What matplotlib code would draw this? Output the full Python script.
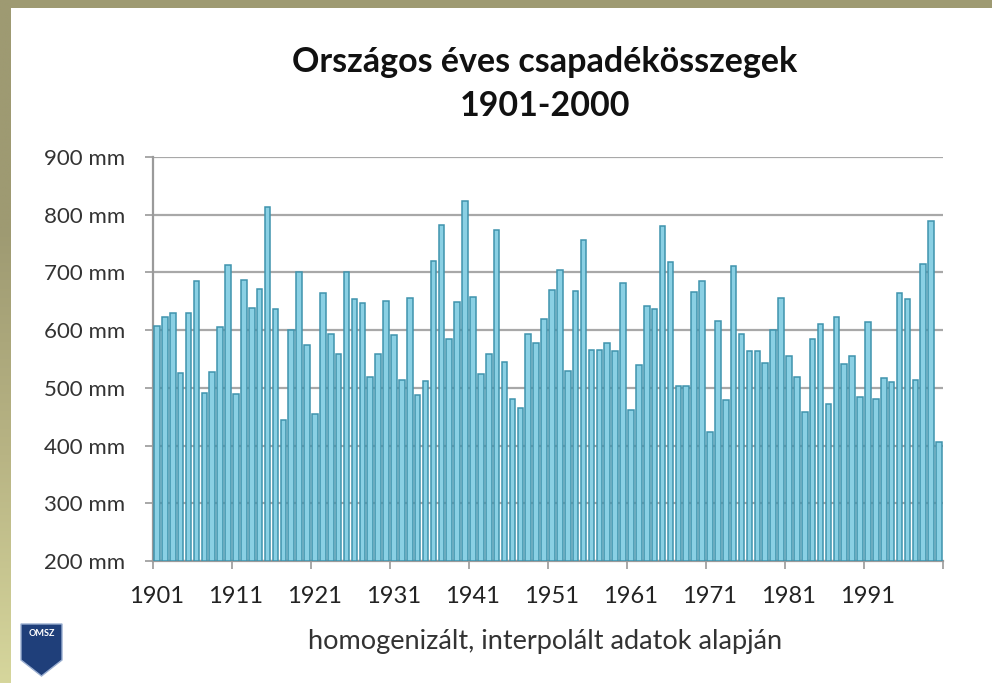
import matplotlib
matplotlib.use("Agg")
import matplotlib.pyplot as plt
import numpy as np
from matplotlib.patches import Rectangle, Polygon
from matplotlib.ticker import FixedLocator, NullFormatter
from matplotlib.colors import LinearSegmentedColormap

years = list(range(1901, 2001))
precip_mm = [
    608, 623, 630, 526, 629, 686, 491, 528, 606, 713,
    489, 687, 638, 672, 813, 637, 444, 600, 701, 574,
    454, 665, 594, 558, 701, 654, 647, 518, 558, 651,
    591, 514, 656, 488, 512, 719, 782, 584, 649, 823,
    658, 524, 559, 774, 545, 481, 465, 594, 578, 620,
    670, 704, 529, 667, 756, 566, 566, 578, 564, 682,
    461, 540, 641, 637, 780, 718, 504, 504, 666, 686,
    423, 615, 479, 711, 593, 564, 564, 543, 601, 655,
    556, 519, 458, 585, 610, 472, 623, 542, 555, 485,
    614, 480, 517, 511, 665, 654, 514, 714, 789, 407,
]
ytick_values = [200, 300, 400, 500, 600, 700, 800, 900]
ytick_labels = [f"{v} mm" for v in ytick_values]
xtick_years = list(range(1901, 2000, 10))
title_line1 = "Országos éves csapadékösszegek"
title_line2 = "1901-2000"
subtitle = "homogenizált, interpolált adatok alapján"

plt.rcParams['font.family'] = ['Lato', 'DejaVu Sans']

W, H = 992, 683
fig = plt.figure(figsize=(W / 100, H / 100), dpi=100)
fig.patch.set_facecolor('white')

# olive frame (top and left)
olive = '#9e9a72'
fig.add_artist(Rectangle((0, 1 - 8 / H), 1, 8 / H, transform=fig.transFigure,
                         facecolor=olive, edgecolor='none', zorder=0))
grad = np.linspace(0, 1, 256).reshape(-1, 1)
ax_bg = fig.add_axes([0, 0, 11 / W, 1])
cmap = LinearSegmentedColormap.from_list('stripe', ['#d6d69c', '#b8b484', olive, olive])
ax_bg.imshow(grad, aspect='auto', cmap=cmap, origin='lower', extent=[0, 1, 0, 1])
ax_bg.set_axis_off()

ax = fig.add_axes([153 / W, 1 - 561 / H, (943 - 153) / W, (561 - 157) / H])
ax.bar(years, np.array(precip_mm) - 200, bottom=200, width=0.7,
       color='#8ad0e4', edgecolor='#3f93ad', linewidth=1.1, zorder=3)

ax.set_ylim(200, 900)
ax.set_xlim(1900.5, 2000.5)
ax.set_yticks(ytick_values)
ax.set_yticklabels(ytick_labels)
ax.yaxis.grid(True, color='#a8a8a8', linewidth=1.6, zorder=0)
ax.tick_params(axis='y', length=6, width=1.2, color='#9a9a9a', labelsize=16,
               labelcolor='#333333', pad=14)

ax.set_xticks(xtick_years)
ax.set_xticklabels([str(y) for y in xtick_years])
ax.tick_params(axis='x', which='major', length=0, labelsize=17, labelcolor='#222222', pad=18)
ax.xaxis.set_minor_locator(FixedLocator([1900.5 + 10 * k for k in range(11)]))
ax.xaxis.set_minor_formatter(NullFormatter())
ax.tick_params(axis='x', which='minor', length=6, width=1.2, color='#9a9a9a', direction='out')

for s in ['top', 'right']:
    ax.spines[s].set_visible(False)
ax.spines['left'].set_color('#9a9a9a')
ax.spines['left'].set_linewidth(1.6)
ax.spines['bottom'].set_color('#9a9a9a')
ax.spines['bottom'].set_linewidth(1.6)
ax.set_axisbelow(True)

fig.text(545 / W, 1 - 62 / H, title_line1, ha='center', va='center',
         fontsize=24.5, fontweight='bold', color='#111111')
fig.text(545 / W, 1 - 106 / H, title_line2, ha='center', va='center',
         fontsize=24.5, fontweight='bold', color='#111111')
fig.text(545 / W, 1 - 642 / H, subtitle, ha='center', va='center',
         fontsize=19.5, color='#333333')

# OMSZ logo (simplified shield)
sx0, sx1, sy0, sy1 = 21, 62, 624, 676
shield = Polygon([(sx0 / W, 1 - sy0 / H), (sx1 / W, 1 - sy0 / H),
                  (sx1 / W, 1 - 660 / H), (41.5 / W, 1 - sy1 / H),
                  (sx0 / W, 1 - 660 / H)], closed=True,
                 transform=fig.transFigure, facecolor='#1f3f7a', edgecolor='#9aaed0',
                 linewidth=1)
fig.add_artist(shield)
fig.text(41.5 / W, 1 - 633 / H, "OMSZ", ha='center', va='center', fontsize=6.5,
         fontweight='bold', color='white')

fig.savefig('out.png', dpi=100)
